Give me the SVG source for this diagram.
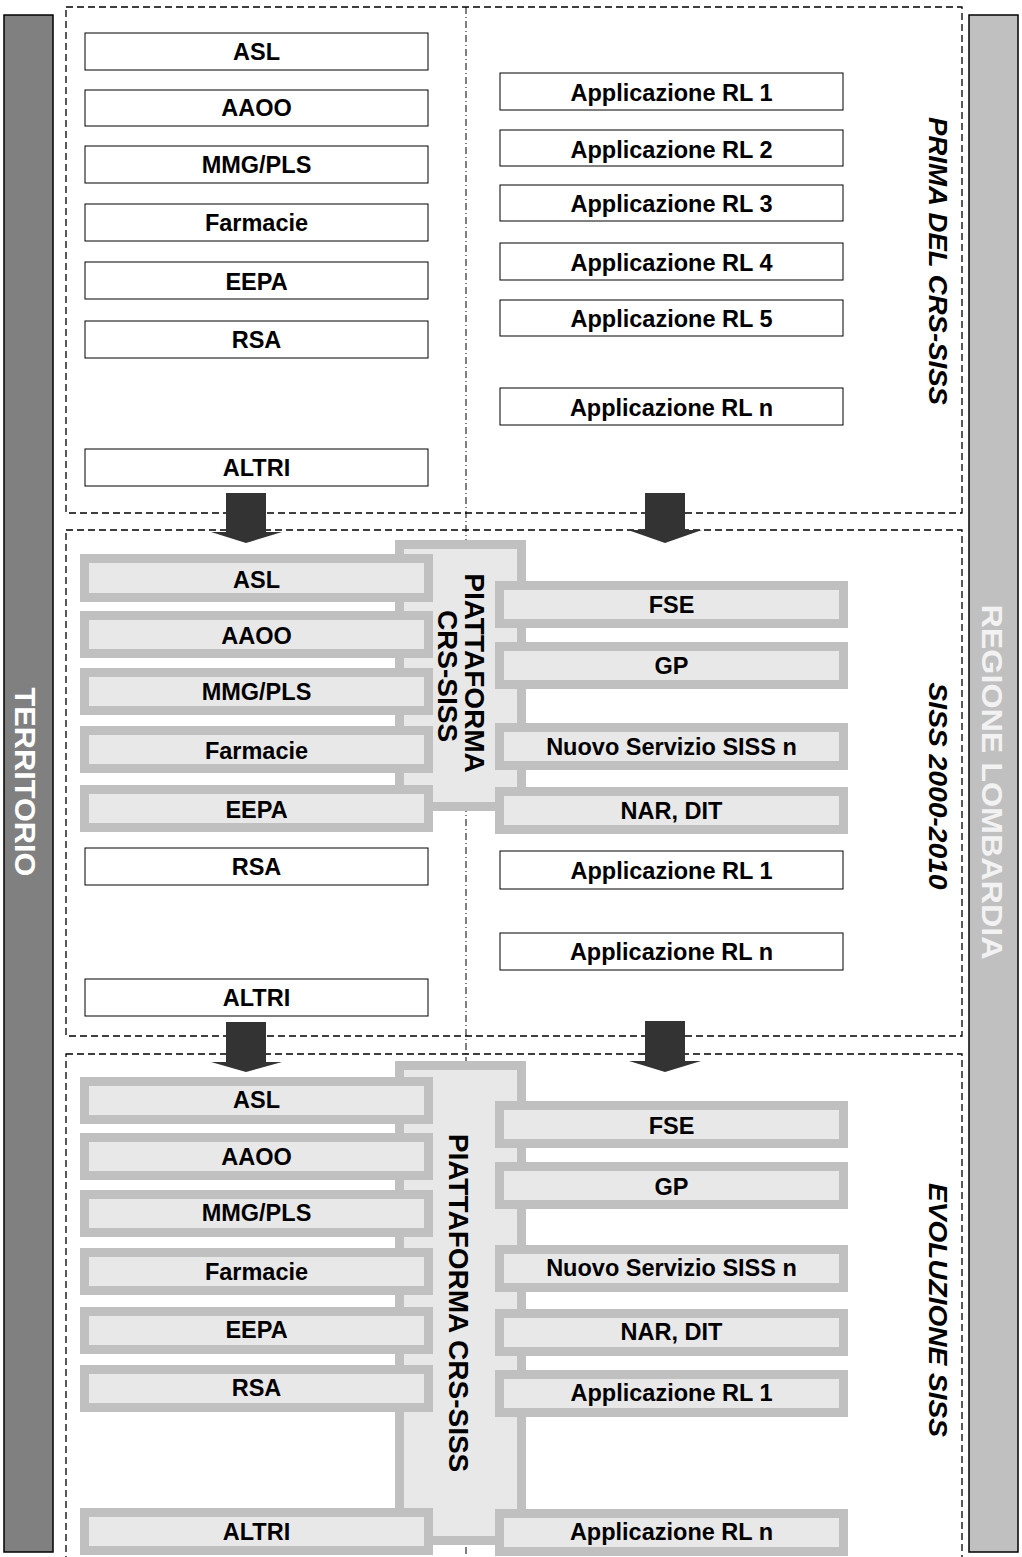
<svg xmlns="http://www.w3.org/2000/svg" width="1022" height="1557" viewBox="0 0 1022 1557">
<style>
.sec{fill:none;stroke:#000;stroke-width:1.3;stroke-dasharray:7 4}
.mid{fill:none;stroke:#000;stroke-width:1;stroke-dasharray:7 3 1 3}
.plain{fill:#fff;stroke:#000;stroke-width:1}
.gray{fill:#e8e8e8;stroke:#c0c0c0;stroke-width:9}
.lbl{font-family:"Liberation Sans",Arial,sans-serif;font-weight:bold;font-size:23.5px;text-anchor:middle;fill:#000}
.plat{font-family:"Liberation Sans",Arial,sans-serif;font-weight:bold;font-size:28px;text-anchor:middle;fill:#000}
.side{font-family:"Liberation Sans",Arial,sans-serif;font-weight:bold;font-style:italic;font-size:26px;text-anchor:middle;fill:#000}
.bar{font-family:"Liberation Sans",Arial,sans-serif;font-weight:bold;font-size:30px;text-anchor:middle}
.arrow{fill:#333}
</style>
<rect width="1022" height="1557" fill="#fff"/>
<g id="territorio">
<rect x="4" y="15" width="49" height="1537" fill="#808080" stroke="#000" stroke-width="1.5"/>
<text class="bar" fill="#fff" transform="translate(15,782) rotate(90)" textLength="189" lengthAdjust="spacingAndGlyphs">TERRITORIO</text>
</g>
<g id="regione-lombardia">
<rect x="969" y="15" width="49" height="1537" fill="#c0c0c0" stroke="#000" stroke-width="1.5"/>
<text class="bar" fill="#f2f2f2" transform="translate(982,782) rotate(90)" textLength="355" lengthAdjust="spacingAndGlyphs">REGIONE LOMBARDIA</text>
</g>
<g id="sections">
<rect class="sec" x="66" y="7" width="896" height="506"/>
<rect class="sec" x="66" y="530" width="896" height="506"/>
<rect class="sec" x="66" y="1054" width="896" height="530"/>
<line class="mid" x1="466" y1="7" x2="466" y2="1557"/>
</g>
<g id="label-prima">
<text class="side" transform="translate(929,261) rotate(90)" textLength="288" lengthAdjust="spacingAndGlyphs">PRIMA DEL CRS-SISS</text>
</g>
<g id="label-siss2000">
<text class="side" transform="translate(929,786) rotate(90)" textLength="207" lengthAdjust="spacingAndGlyphs">SISS 2000-2010</text>
</g>
<g id="label-evoluzione">
<text class="side" transform="translate(929,1310) rotate(90)" textLength="254" lengthAdjust="spacingAndGlyphs">EVOLUZIONE SISS</text>
</g>

<!-- Section 1 -->
<g id="s1-asl"><rect class="plain" x="85" y="33" width="343" height="37"/><text class="lbl" x="256.5" y="60">ASL</text></g>
<g id="s1-aaoo"><rect class="plain" x="85" y="90" width="343" height="36"/><text class="lbl" x="256.5" y="116">AAOO</text></g>
<g id="s1-mmg"><rect class="plain" x="85" y="146" width="343" height="37"/><text class="lbl" x="256.5" y="173">MMG/PLS</text></g>
<g id="s1-farmacie"><rect class="plain" x="85" y="204" width="343" height="37"/><text class="lbl" x="256.5" y="231">Farmacie</text></g>
<g id="s1-eepa"><rect class="plain" x="85" y="262" width="343" height="37"/><text class="lbl" x="256.5" y="290">EEPA</text></g>
<g id="s1-rsa"><rect class="plain" x="85" y="321" width="343" height="37"/><text class="lbl" x="256.5" y="348">RSA</text></g>
<g id="s1-altri"><rect class="plain" x="85" y="449" width="343" height="37"/><text class="lbl" x="256.5" y="476">ALTRI</text></g>
<g id="s1-rl1"><rect class="plain" x="500" y="73" width="343" height="37"/><text class="lbl" x="671.5" y="101">Applicazione RL 1</text></g>
<g id="s1-rl2"><rect class="plain" x="500" y="130" width="343" height="36"/><text class="lbl" x="671.5" y="158">Applicazione RL 2</text></g>
<g id="s1-rl3"><rect class="plain" x="500" y="185" width="343" height="36"/><text class="lbl" x="671.5" y="212">Applicazione RL 3</text></g>
<g id="s1-rl4"><rect class="plain" x="500" y="243" width="343" height="37"/><text class="lbl" x="671.5" y="271">Applicazione RL 4</text></g>
<g id="s1-rl5"><rect class="plain" x="500" y="300" width="343" height="36"/><text class="lbl" x="671.5" y="327">Applicazione RL 5</text></g>
<g id="s1-rln"><rect class="plain" x="500" y="388" width="343" height="37"/><text class="lbl" x="671.5" y="416">Applicazione RL n</text></g>

<!-- Section 2 -->
<g id="s2-piattaforma"><rect class="gray" x="399.5" y="544.5" width="122" height="262"/>
<text class="plat" transform="translate(465,673) rotate(90)">PIATTAFORMA</text>
<text class="plat" transform="translate(438,676) rotate(90)">CRS-SISS</text></g>
<g id="s2-asl"><rect class="gray" x="84.5" y="558.5" width="344" height="39"/><text class="lbl" x="256.5" y="588">ASL</text></g>
<g id="s2-aaoo"><rect class="gray" x="84.5" y="615.5" width="344" height="38"/><text class="lbl" x="256.5" y="644">AAOO</text></g>
<g id="s2-mmg"><rect class="gray" x="84.5" y="672.5" width="344" height="38"/><text class="lbl" x="256.5" y="700">MMG/PLS</text></g>
<g id="s2-farmacie"><rect class="gray" x="84.5" y="730.5" width="344" height="38"/><text class="lbl" x="256.5" y="759">Farmacie</text></g>
<g id="s2-eepa"><rect class="gray" x="84.5" y="789.5" width="344" height="38"/><text class="lbl" x="256.5" y="818">EEPA</text></g>
<g id="s2-rsa"><rect class="plain" x="85" y="848" width="343" height="37"/><text class="lbl" x="256.5" y="875">RSA</text></g>
<g id="s2-altri"><rect class="plain" x="85" y="979" width="343" height="37"/><text class="lbl" x="256.5" y="1006">ALTRI</text></g>
<g id="s2-fse"><rect class="gray" x="499.5" y="585.5" width="344" height="38"/><text class="lbl" x="671.5" y="613">FSE</text></g>
<g id="s2-gp"><rect class="gray" x="499.5" y="646.5" width="344" height="38"/><text class="lbl" x="671.5" y="674">GP</text></g>
<g id="s2-nuovo"><rect class="gray" x="499.5" y="727.5" width="344" height="38"/><text class="lbl" x="671.5" y="755">Nuovo Servizio SISS n</text></g>
<g id="s2-nar"><rect class="gray" x="499.5" y="791.5" width="344" height="38"/><text class="lbl" x="671.5" y="819">NAR, DIT</text></g>
<g id="s2-rl1"><rect class="plain" x="500" y="851" width="343" height="38"/><text class="lbl" x="671.5" y="879">Applicazione RL 1</text></g>
<g id="s2-rln"><rect class="plain" x="500" y="933" width="343" height="37"/><text class="lbl" x="671.5" y="960">Applicazione RL n</text></g>

<!-- Section 3 -->
<g id="s3-piattaforma"><rect class="gray" x="399.5" y="1065.5" width="122" height="475"/>
<text class="plat" transform="translate(449,1303) rotate(90)">PIATTAFORMA CRS-SISS</text></g>
<g id="s3-asl"><rect class="gray" x="84.5" y="1081.5" width="344" height="38"/><text class="lbl" x="256.5" y="1108">ASL</text></g>
<g id="s3-aaoo"><rect class="gray" x="84.5" y="1137.5" width="344" height="38"/><text class="lbl" x="256.5" y="1165">AAOO</text></g>
<g id="s3-mmg"><rect class="gray" x="84.5" y="1194.5" width="344" height="38"/><text class="lbl" x="256.5" y="1221">MMG/PLS</text></g>
<g id="s3-farmacie"><rect class="gray" x="84.5" y="1252.5" width="344" height="38"/><text class="lbl" x="256.5" y="1280">Farmacie</text></g>
<g id="s3-eepa"><rect class="gray" x="84.5" y="1311.5" width="344" height="38"/><text class="lbl" x="256.5" y="1338">EEPA</text></g>
<g id="s3-rsa"><rect class="gray" x="84.5" y="1369.5" width="344" height="38"/><text class="lbl" x="256.5" y="1396">RSA</text></g>
<g id="s3-altri"><rect class="gray" x="84.5" y="1512.5" width="344" height="38"/><text class="lbl" x="256.5" y="1540">ALTRI</text></g>
<g id="s3-fse"><rect class="gray" x="499.5" y="1105.5" width="344" height="38"/><text class="lbl" x="671.5" y="1134">FSE</text></g>
<g id="s3-gp"><rect class="gray" x="499.5" y="1166.5" width="344" height="38"/><text class="lbl" x="671.5" y="1195">GP</text></g>
<g id="s3-nuovo"><rect class="gray" x="499.5" y="1249.5" width="344" height="38"/><text class="lbl" x="671.5" y="1276">Nuovo Servizio SISS n</text></g>
<g id="s3-nar"><rect class="gray" x="499.5" y="1313.5" width="344" height="38"/><text class="lbl" x="671.5" y="1340">NAR, DIT</text></g>
<g id="s3-rl1"><rect class="gray" x="499.5" y="1374.5" width="344" height="38"/><text class="lbl" x="671.5" y="1401">Applicazione RL 1</text></g>
<g id="s3-rln"><rect class="gray" x="499.5" y="1513.5" width="344" height="38"/><text class="lbl" x="671.5" y="1540">Applicazione RL n</text></g>

<g id="connectors">
<polygon class="arrow" points="226,493 266,493 266,532 282,532 246,543 211,532 226,532"/>
<polygon class="arrow" points="645,493 685,493 685,530 702,530 665,543 628,530 645,530"/>
<polygon class="arrow" points="226,1022 266,1022 266,1062 282,1062 246,1072 211,1062 226,1062"/>
<polygon class="arrow" points="645,1021 685,1021 685,1061 701,1061 665,1072 629,1061 645,1061"/>
</g>
</svg>
